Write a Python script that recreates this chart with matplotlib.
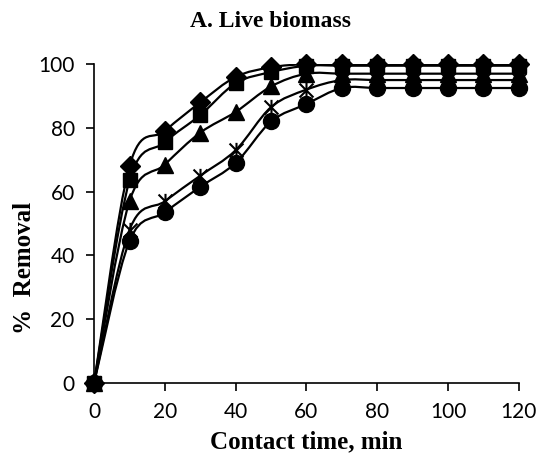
import numpy as np
import matplotlib
matplotlib.use("Agg")
import matplotlib.pyplot as plt
from matplotlib.path import Path
from matplotlib.patches import PathPatch

# contact time (min) and % removal for each series
t = [0, 10, 20, 30, 40, 50, 60, 70, 80, 90, 100, 110, 120]
diamond = [0, 68, 79, 88, 96, 99, 100, 100, 100, 100, 100, 100, 100]
square = [0, 63.5, 75.5, 84, 94, 97.5, 99.5, 99.5, 99.5, 99.5, 99.5, 99.5, 99.5]
triangle = [0, 57, 68.5, 78.5, 85, 93, 97, 97, 97, 97, 97, 97, 97]
star = [0, 48, 57, 65, 73, 86.5, 92, 95, 95, 95, 95, 95, 95]
circle = [0, 44.5, 53.5, 61.5, 69, 82, 87.5, 92.5, 92.5, 92.5, 92.5, 92.5, 92.5]

star_marker = Path([(-1, -1), (1, 1), (-1, 1), (1, -1), (0, -1.1), (0, 1.1)],
                   [Path.MOVETO, Path.LINETO, Path.MOVETO, Path.LINETO, Path.MOVETO, Path.LINETO])


def smooth_path(x, y):
    # excel style smoothed line: bezier segments through the points
    p = np.column_stack([x, y]).astype(float)
    n = len(p)
    verts = [p[0]]
    codes = [Path.MOVETO]
    for i in range(n - 1):
        p0 = p[i - 1] if i > 0 else p[i]
        p3 = p[i + 2] if i + 2 < n else p[i + 1]
        c1 = p[i] + (p[i + 1] - p0) / 6.0
        c2 = p[i + 1] - (p3 - p[i]) / 6.0
        verts += [c1, c2, p[i + 1]]
        codes += [Path.CURVE4] * 3
    return Path(verts, codes)


fig = plt.figure(figsize=(5.41, 4.68), dpi=100)
ax = fig.add_axes([0.174, 0.182, 0.785, 0.681])

series = [(diamond, "D", 10.5), (square, "s", 10.5), (triangle, "^", 11),
          (star, star_marker, 11), (circle, "o", 11.5)]
for ys, m, ms in series:
    ax.add_patch(PathPatch(smooth_path(t, ys), fill=False, lw=1.6, ec="black", zorder=2))
    if m is star_marker:
        ax.plot(t, ys, ls="none", marker=m, ms=ms, mew=1.5, color="black", clip_on=False, zorder=3)
    else:
        ax.plot(t, ys, ls="none", marker=m, ms=ms, color="black", clip_on=False, zorder=3)

ax.set_xlim(0, 120)
ax.set_ylim(0, 100)
ax.set_xticks(range(0, 121, 20))
ax.set_yticks(range(0, 101, 20))
ax.spines["top"].set_visible(False)
ax.spines["right"].set_visible(False)
ax.spines["left"].set_linewidth(1.2)
ax.spines["bottom"].set_linewidth(1.2)
ax.tick_params(direction="out", length=6, width=1.2, labelsize=15, pad=8)
for lab in ax.get_xticklabels() + ax.get_yticklabels():
    lab.set_family("Lato")

serif = {"family": "Liberation Serif", "weight": "bold"}
ax.set_xlabel("Contact time, min", fontsize=18, labelpad=6, **serif)
ax.set_ylabel("%  Removal", fontsize=18, **serif)
ax.yaxis.set_label_coords(-0.137, 0.36)
fig.text(0.5, 0.955, "A. Live biomass", ha="center", va="center", fontsize=17, **serif)

plt.savefig("out.png", dpi=100)
